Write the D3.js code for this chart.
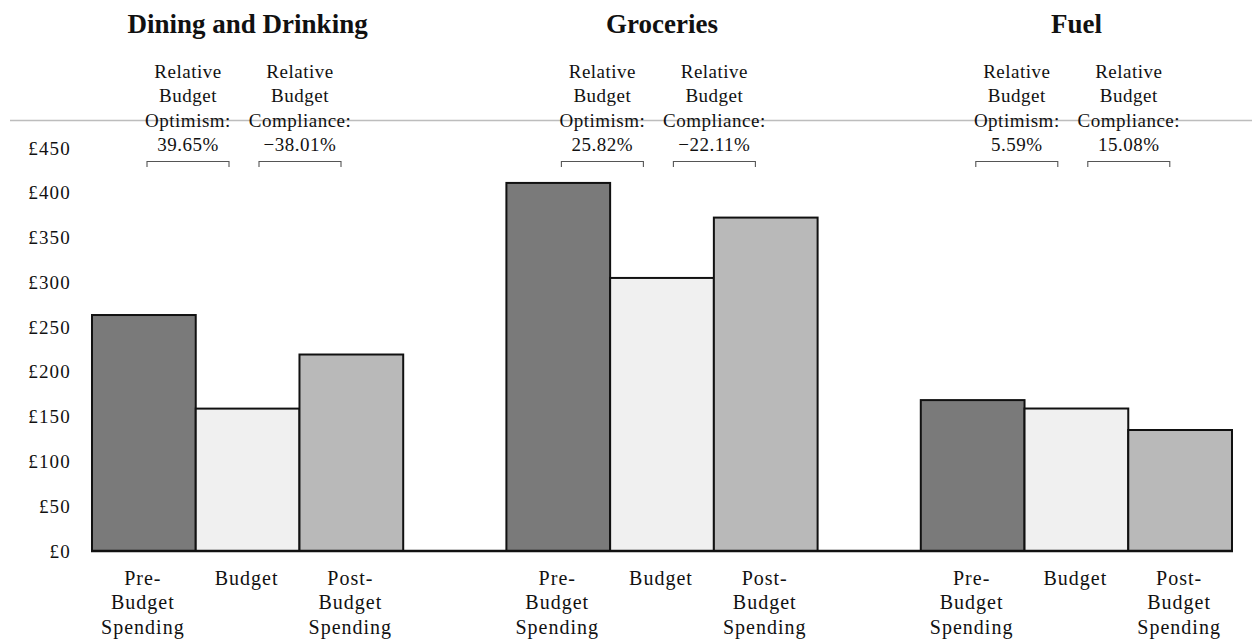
<!DOCTYPE html>
<html>
<head>
<meta charset="utf-8">
<script src="https://cdn.jsdelivr.net/npm/d3@7"></script>
<style>
  html, body { margin: 0; padding: 0; background: #fff; }
  svg { display: block; }
  text { font-family: "Liberation Serif", "Times New Roman", serif; fill: #111; }
</style>
</head>
<body>
<svg id="chart" width="1252" height="641"></svg>
<script>
// ---- data ----
const categories = ["Dining and Drinking", "Groceries", "Fuel"];
const seriesNames = ["Pre-Budget Spending", "Budget", "Post-Budget Spending"];
const seriesLabelLines = [["Pre-", "Budget", "Spending"], ["Budget"], ["Post-", "Budget", "Spending"]];
const preBudget = [263.5, 411.0, 168.5];
const budget = [159.0, 304.9, 159.1];
const postBudget = [219.4, 372.3, 135.1];
const optimism = ["39.65%", "25.82%", "5.59%"];
const compliance = ["\u221238.01%", "\u221222.11%", "15.08%"];
const yTicks = [0, 50, 100, 150, 200, 250, 300, 350, 400, 450];

const seriesValues = [preBudget, budget, postBudget];
const fills = ["#7a7a7a", "#f0f0f0", "#b9b9b9"];

const svg = d3.select("#chart");

const y = d3.scaleLinear().domain([0, 450]).range([551, 148]);
const x0 = d3.scaleBand().domain(categories).range([92, 1232]).paddingInner(0.249).paddingOuter(0);
const x1 = d3.scaleBand().domain(seriesNames).range([0, x0.bandwidth()]).padding(0);

// gray rule line
svg.append("line")
  .attr("x1", 10).attr("x2", 1252).attr("y1", 120.5).attr("y2", 120.5)
  .attr("stroke", "#bdbdbd").attr("stroke-width", 1.5);

// y axis
const yAxis = d3.axisLeft(y).tickValues(yTicks).tickSize(0).tickPadding(21)
  .tickFormat(d => "\u00a3" + d);
const gy = svg.append("g").attr("transform", "translate(92,0)").call(yAxis);
gy.select(".domain").remove();
gy.selectAll("text")
  .style("font-family", "'Liberation Serif', serif")
  .style("font-size", "19px")
  .style("letter-spacing", "1.2px")
  .attr("fill", "#111");

// bars
const groups = svg.append("g").selectAll("g").data(categories).join("g")
  .attr("transform", d => `translate(${x0(d)},0)`);

groups.selectAll("rect")
  .data((c, ci) => seriesNames.map((s, si) => ({ s, si, v: seriesValues[si][ci] })))
  .join("rect")
  .attr("x", d => x1(d.s))
  .attr("width", x1.bandwidth())
  .attr("y", d => y(d.v))
  .attr("height", d => y(0) - y(d.v))
  .attr("fill", d => fills[d.si])
  .attr("stroke", "#111")
  .attr("stroke-width", 2);

// x axis line
svg.append("line")
  .attr("x1", 91).attr("x2", 1233).attr("y1", y(0)).attr("y2", y(0))
  .attr("stroke", "#111").attr("stroke-width", 2.5);

// x category labels
groups.each(function (c) {
  const g = d3.select(this);
  seriesNames.forEach((s, si) => {
    const cx = x1(s) + x1.bandwidth() / 2 - 1;
    const t = g.append("text")
      .attr("x", cx)
      .attr("y", 585)
      .attr("text-anchor", "middle")
      .style("font-size", "20px")
      .style("letter-spacing", "1px");
    seriesLabelLines[si].forEach((ln, li) => {
      t.append("tspan").attr("x", cx).attr("dy", li === 0 ? 0 : 24.3).text(ln);
    });
  });
});

// titles
groups.append("text")
  .attr("x", x0.bandwidth() / 2)
  .attr("y", 33)
  .attr("text-anchor", "middle")
  .style("font-size", "27px")
  .style("font-weight", "bold")
  .text(d => d);

// annotations
function annot(g, cx, lines) {
  const t = g.append("text").attr("text-anchor", "middle")
    .attr("y", 78).style("font-size", "19px").style("letter-spacing", "0.5px");
  lines.forEach((ln, i) => {
    t.append("tspan").attr("x", cx).attr("dy", i === 0 ? 0 : 24.3).text(ln);
  });
}
function bracket(g, xa, xb) {
  g.append("path")
    .attr("d", `M${xa},167 L${xa},161.5 L${xb},161.5 L${xb},167`)
    .attr("fill", "none").attr("stroke", "#555").attr("stroke-width", 1.1);
}
groups.each(function (c, ci) {
  const g = d3.select(this);
  annot(g, 96, ["Relative", "Budget", "Optimism:", optimism[ci]]);
  annot(g, 208, ["Relative", "Budget", "Compliance:", compliance[ci]]);
  bracket(g, 55, 137);
  bracket(g, 167, 249);
});
</script>
</body>
</html>
